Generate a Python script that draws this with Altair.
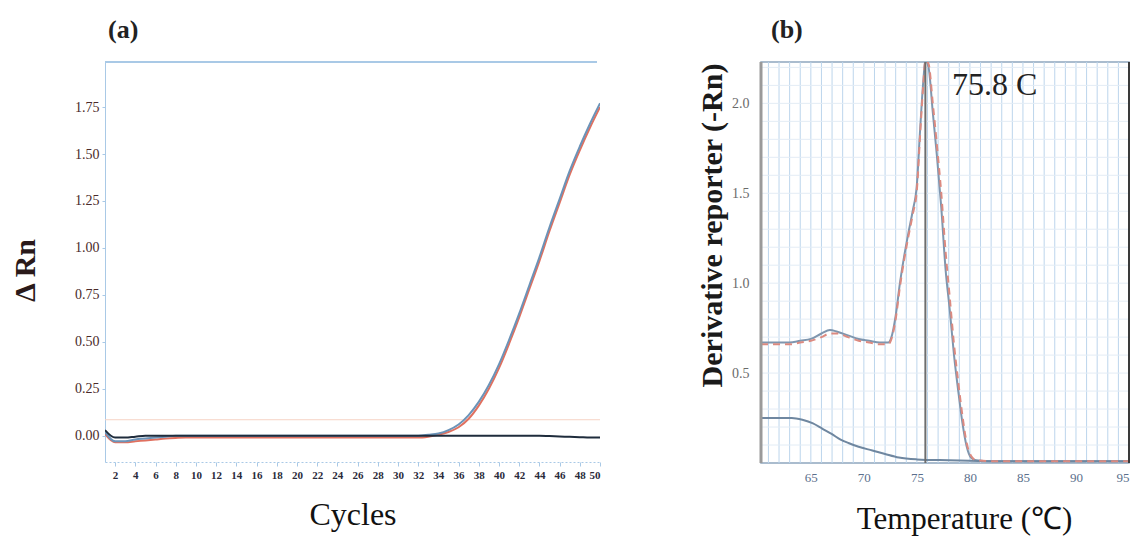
import altair as alt
import pandas as pd

# ---------------- Panel (a): amplification plot ----------------
cycles = list(range(1, 51))
amp_blue = [0.02, -0.03, -0.03, -0.02, -0.015, -0.01, -0.005, 0.0, 0.0, 0.0,
            0.0, 0.0, 0.0, 0.0, 0.0, 0.0, 0.0, 0.0, 0.0, 0.0,
            0.0, 0.0, 0.0, 0.0, 0.0, 0.0, 0.0, 0.0, 0.0, 0.0,
            0.0, 0.0, 0.005, 0.012, 0.03, 0.06, 0.11, 0.18, 0.27, 0.38,
            0.51, 0.65, 0.80, 0.95, 1.11, 1.26, 1.41, 1.54, 1.66, 1.77]
amp_red = [0.01, -0.035, -0.035, -0.03, -0.025, -0.02, -0.015, -0.012, -0.01, -0.01,
           -0.01, -0.01, -0.01, -0.01, -0.01, -0.01, -0.01, -0.01, -0.01, -0.01,
           -0.01, -0.01, -0.01, -0.01, -0.01, -0.01, -0.01, -0.01, -0.01, -0.01,
           -0.01, -0.01, -0.005, 0.005, 0.02, 0.045, 0.09, 0.16, 0.25, 0.36,
           0.49, 0.63, 0.78, 0.93, 1.09, 1.24, 1.39, 1.52, 1.64, 1.75]
amp_ntc = [0.03, -0.01, -0.01, -0.005, 0.0, 0.0, 0.0, 0.0, 0.0, 0.0,
           0.0, 0.0, 0.0, 0.0, 0.0, 0.0, 0.0, 0.0, 0.0, 0.0,
           0.0, 0.0, 0.0, 0.0, 0.0, 0.0, 0.0, 0.0, 0.0, 0.0,
           0.0, 0.0, 0.0, 0.0, 0.0, 0.0, 0.0, 0.0, 0.0, 0.0,
           0.0, 0.0, 0.0, 0.0, -0.002, -0.004, -0.006, -0.008, -0.01, -0.01]
threshold = [0.085]
y_ticks_a = [0.0, 0.25, 0.5, 0.75, 1.0, 1.25, 1.5, 1.75]
x_ticks_a = list(range(2, 51, 2))

# ---------------- Panel (b): melt curve ----------------
melt_temp = [60.3, 61.0, 62.0, 63.0, 64.0, 65.0, 66.0, 66.8, 67.5, 68.5,
             69.5, 70.5, 71.5, 72.3, 72.6, 73.0, 73.4, 73.8, 74.2, 74.6,
             75.0, 75.3, 75.6, 75.8, 76.1, 76.5, 76.9, 77.3, 77.7, 78.1,
             78.5, 78.9, 79.3, 79.7, 80.1, 80.6, 82.0, 85.0, 90.0, 95.0]
melt_blue = [0.67, 0.67, 0.67, 0.67, 0.68, 0.69, 0.72, 0.74, 0.73, 0.71,
             0.69, 0.68, 0.67, 0.67, 0.70, 0.82, 1.00, 1.15, 1.28, 1.40,
             1.55, 1.85, 2.12, 2.24, 2.20, 1.95, 1.70, 1.42, 1.08, 0.85,
             0.60, 0.40, 0.22, 0.09, 0.03, 0.015, 0.01, 0.01, 0.01, 0.01]
melt_red = [0.66, 0.66, 0.66, 0.66, 0.67, 0.68, 0.70, 0.72, 0.72, 0.70,
            0.68, 0.67, 0.66, 0.66, 0.69, 0.80, 0.98, 1.13, 1.26, 1.38,
            1.52, 1.82, 2.10, 2.24, 2.22, 2.00, 1.76, 1.50, 1.18, 0.92,
            0.66, 0.45, 0.26, 0.11, 0.04, 0.015, 0.01, 0.01, 0.01, 0.01]
ntc_temp = [60.3, 61.3, 62.3, 63.2, 64.2, 65.2, 66.1, 67.0, 67.8, 68.6,
            69.5, 70.8, 72.0, 73.3, 75.0, 78.0, 82.0, 86.0, 90.0, 95.0]
ntc_melt = [0.25, 0.25, 0.25, 0.25, 0.24, 0.22, 0.19, 0.16, 0.13, 0.11,
            0.09, 0.07, 0.05, 0.03, 0.02, 0.015, 0.01, 0.01, 0.01, 0.01]
peak_temp = [75.8]
peak_label = ["75.8 C"]
label_x = [78.3]
label_y = [2.10]
x_ticks_b = [65, 70, 75, 80, 85, 90, 95]
y_ticks_b = [0.5, 1.0, 1.5, 2.0]
grid_temps_b = list(range(61, 95))
grid_vals_b = [round(0.1 * i, 1) for i in range(1, 23)]

SERIF = "Liberation Serif"
WA, HA = 495, 400
WB, HB = 368, 401

# ---- panel (a)
amp_df = pd.concat([
    pd.DataFrame({"cycle": cycles, "rn": amp_red, "s": "red", "o": 1}),
    pd.DataFrame({"cycle": cycles, "rn": amp_blue, "s": "blue", "o": 2}),
    pd.DataFrame({"cycle": cycles, "rn": amp_ntc, "s": "ntc", "o": 3}),
])
ya_scale = alt.Scale(domain=[-0.14, 1.99], nice=False, zero=False)

xa = alt.X("cycle:Q", scale=alt.Scale(domain=[1, 50], nice=False, zero=False),
           axis=alt.Axis(values=x_ticks_a, title="Cycles", titleFont=SERIF, titleFontSize=32,
                         titleFontWeight="normal", titleColor="#111", titlePadding=19,
                         labelFont=SERIF, labelFontSize=11, labelFontWeight="bold",
                         labelColor="#2a2a3a", labelPadding=3, labelOverlap=False, grid=False,
                         domainColor="#a9c9e6", domainDash=[2, 2], tickColor="#a9c9e6", tickSize=4))
ya = alt.Y("rn:Q", scale=ya_scale,
           axis=alt.Axis(values=y_ticks_a, format=".2f", title="Δ Rn", titleFont=SERIF,
                         titleFontSize=30, titleFontWeight="bold", titleColor="#2a1a1a",
                         titlePadding=34, titleY=208, labelFont=SERIF, labelFontSize=14,
                         labelColor="#4a2a2a", labelPadding=3, grid=False,
                         domainColor="#a9c9e6", tickColor="#a9c9e6", tickSize=3))

top_rule_a = alt.Chart(pd.DataFrame({"d": [0]})).mark_rule(color="#a9c9e6", strokeWidth=2).encode(
    x=alt.value(0), x2=alt.value(WA - 3), y=alt.value(0))
thr_rule = alt.Chart(pd.DataFrame({"t": threshold})).mark_rule(
    color="#f6d3c4", strokeWidth=1).encode(y=alt.Y("t:Q", scale=ya_scale))
lines_a = alt.Chart(amp_df).mark_line(strokeWidth=2, clip=True, interpolate="monotone").encode(
    x=xa, y=ya,
    color=alt.Color("s:N", scale=alt.Scale(domain=["red", "blue", "ntc"],
                                          range=["#e0705f", "#6b93b8", "#1f2c3c"]), legend=None),
    detail="s:N", order="o:Q")

panel_a = alt.layer(thr_rule, lines_a, top_rule_a).properties(
    width=WA, height=HA,
    title=alt.TitleParams("(a)", anchor="start", frame="group", font=SERIF, fontSize=26,
                          fontWeight="bold", color="#222", offset=18, dx=3),
    view=alt.ViewBackground(stroke="transparent"))

# ---- panel (b)
melt_df = pd.concat([
    pd.DataFrame({"temp": melt_temp, "d": melt_blue, "s": "melt"}),
    pd.DataFrame({"temp": ntc_temp, "d": ntc_melt, "s": "blank"}),
])
red_df = pd.DataFrame({"temp": melt_temp, "d": melt_red})

xb_scale = alt.Scale(domain=[60.3, 95], nice=False, zero=False)
yb_scale = alt.Scale(domain=[0, 2.23], nice=False, zero=False)

xb = alt.X("temp:Q", scale=xb_scale,
           axis=alt.Axis(values=x_ticks_b, format="d",
                         title="Temperature (℃)", titleFont=SERIF, titleFontSize=31,
                         titleFontWeight="normal", titleColor="#111", titlePadding=20,
                         titleX=203, labelFont=SERIF, labelFontSize=13, labelColor="#5b6f8c",
                         labelPadding=8, labelOverlap=False, ticks=False, domain=False, grid=False))
yb = alt.Y("d:Q", scale=yb_scale,
           axis=alt.Axis(values=y_ticks_b, format=".1f",
                         title="Derivative reporter (-Rn)", titleFont=SERIF, titleFontSize=30,
                         titleFontWeight="bold", titleColor="#1a1a1a", titlePadding=4,
                         titleY=163, labelFont=SERIF, labelFontSize=14, labelColor="#6a6a6a",
                         labelPadding=12, labelOverlap=False, ticks=False, domain=False, grid=False))

vgrid = alt.Chart(pd.DataFrame({"t": grid_temps_b})).mark_rule(color="#bcd5ec", strokeWidth=1).encode(
    x=alt.X("t:Q", scale=xb_scale))
hgrid = alt.Chart(pd.DataFrame({"v": grid_vals_b})).mark_rule(color="#e3ecf5", strokeWidth=1).encode(
    y=alt.Y("v:Q", scale=yb_scale))
melt_lines = alt.Chart(melt_df).mark_line(strokeWidth=2, clip=True, interpolate="monotone").encode(
    x=xb, y=yb,
    color=alt.Color("s:N", scale=alt.Scale(domain=["melt", "blank"], range=["#7f96ae", "#6f87a0"]),
                    legend=None),
    detail="s:N")
red_line = alt.Chart(red_df).mark_line(strokeWidth=2, clip=True, strokeDash=[7, 5],
                                       color="#dc8a80", interpolate="monotone").encode(
    x=alt.X("temp:Q", scale=xb_scale), y=alt.Y("d:Q", scale=yb_scale))
peak_rule = alt.Chart(pd.DataFrame({"t": peak_temp})).mark_rule(color="#6d6d6d", strokeWidth=2).encode(
    x=alt.X("t:Q", scale=xb_scale))
peak_text = alt.Chart(pd.DataFrame({"x": label_x, "y": label_y, "lab": peak_label})).mark_text(
    align="left", baseline="middle", font=SERIF, fontSize=32, color="#222").encode(
    x=alt.X("x:Q", scale=xb_scale), y=alt.Y("y:Q", scale=yb_scale), text="lab:N")
left_frame = alt.Chart(pd.DataFrame({"d": [0]})).mark_rule(color="#9a9a9a", strokeWidth=3).encode(
    x=alt.value(0), y=alt.value(0), y2=alt.value(HB))
right_frame = alt.Chart(pd.DataFrame({"d": [0]})).mark_rule(color="#3a3a3a", strokeWidth=2).encode(
    x=alt.value(WB), y=alt.value(0), y2=alt.value(HB))

panel_b = alt.layer(vgrid, hgrid, melt_lines, red_line, peak_rule, peak_text,
                    left_frame, right_frame).properties(
    width=WB, height=HB,
    title=alt.TitleParams("(b)", anchor="start", frame="group", font=SERIF, fontSize=26,
                          fontWeight="bold", color="#222", offset=18, dx=10),
    view=alt.ViewBackground(stroke="#8ea6bf", strokeWidth=1.5))

chart = alt.hconcat(panel_a, panel_b, spacing=95).resolve_scale(color="independent").properties(
    padding={"left": 10, "top": 15, "right": 4, "bottom": 4},
    background="white")

chart.save("out.html", embed_options={"renderer": "svg", "actions": False})
